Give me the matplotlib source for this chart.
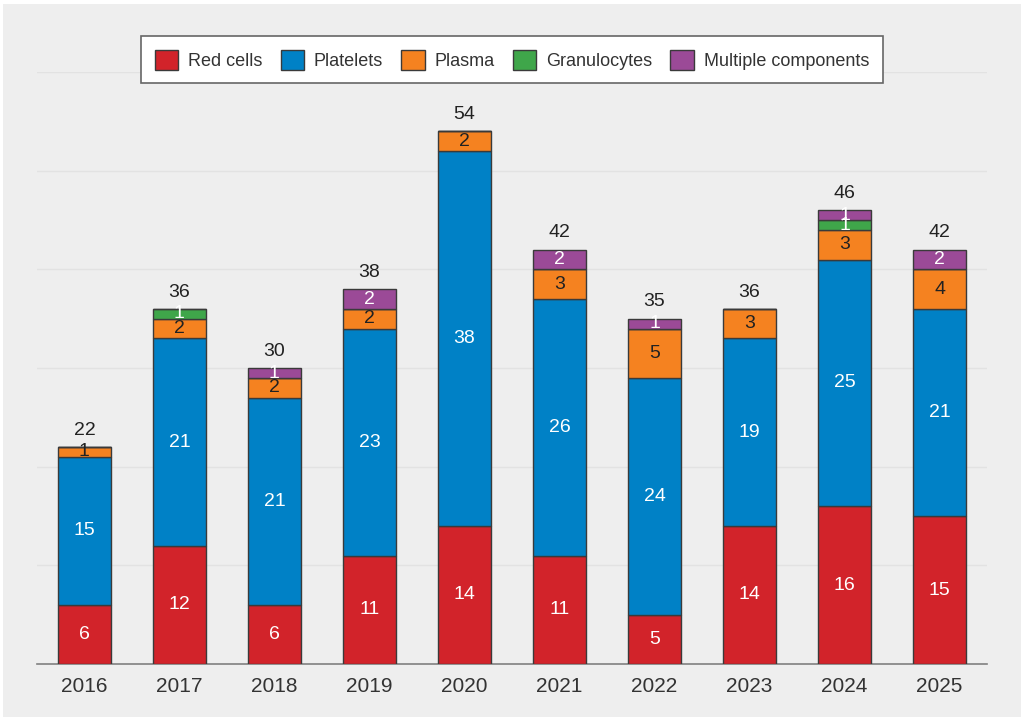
import numpy as np
import matplotlib.pyplot as plt
from matplotlib.patches import Rectangle

plt.rcParams['font.family'] = ['Liberation Sans', 'DejaVu Sans']

years = ['2016', '2017', '2018', '2019', '2020', '2021', '2022', '2023', '2024', '2025']
red_cells = [6, 12, 6, 11, 14, 11, 5, 14, 16, 15]
platelets = [15, 21, 21, 23, 38, 26, 24, 19, 25, 21]
plasma = [1, 2, 2, 2, 2, 3, 5, 3, 3, 4]
granulocytes = [0, 1, 0, 0, 0, 0, 0, 0, 1, 0]
multiple = [0, 0, 1, 2, 0, 2, 1, 0, 1, 2]

series = [
    ('Red cells', red_cells, '#d2232a', 'white'),
    ('Platelets', platelets, '#0081c6', 'white'),
    ('Plasma', plasma, '#f58220', '#222222'),
    ('Granulocytes', granulocytes, '#3fa64a', 'white'),
    ('Multiple components', multiple, '#9b4a97', 'white'),
]

fig = plt.figure(figsize=(10.24, 7.21), dpi=100, facecolor='white')
# grey panel behind the chart
fig.patches.append(Rectangle((0.003, 0.005), 0.994, 0.99, transform=fig.transFigure,
                             facecolor='#eeeeee', edgecolor='none', zorder=-10))

ax = fig.add_axes([0.036, 0.079, 0.928, 0.821])
ax.set_facecolor('none')

x = np.arange(len(years))
bottom = np.zeros(len(years))
for name, vals, col, tcol in series:
    vals = np.array(vals)
    ax.bar(x, vals, width=0.55, bottom=bottom, color=col, edgecolor='#3a3a3a',
           linewidth=1.0, label=name, zorder=3)
    for i, v in enumerate(vals):
        if v > 0:
            ax.text(x[i], bottom[i] + v / 2, str(v), ha='center', va='center',
                    color=tcol, fontsize=14, zorder=4)
    bottom += vals

for i, tot in enumerate(bottom):
    ax.annotate(str(int(tot)), (x[i], tot), xytext=(0, 6), textcoords='offset points',
                ha='center', va='bottom', fontsize=14, color='#222222')

ax.set_xlim(-0.5, len(years) - 0.5)
ax.set_ylim(0, 60)
ax.set_yticks(np.arange(10, 61, 10))
ax.yaxis.grid(True, color='#e2e2e2', linewidth=1.0, zorder=0)
ax.tick_params(axis='y', left=False, labelleft=False)
ax.set_xticks(x)
ax.set_xticklabels(years, fontsize=15, color='#333333')
ax.tick_params(axis='x', length=0, pad=9)
for s in ['left', 'right', 'top']:
    ax.spines[s].set_visible(False)
ax.spines['bottom'].set_color('#808080')
ax.spines['bottom'].set_linewidth(1.2)

leg = fig.legend(loc='center', bbox_to_anchor=(0.5, 0.917), ncol=5, fontsize=13,
                 frameon=True, fancybox=False, edgecolor='#666666', facecolor='white',
                 framealpha=1, handlelength=1.3, handleheight=1.3, handletextpad=0.55,
                 columnspacing=1.0, borderpad=0.75)
leg.get_frame().set_linewidth(1.2)
for t in leg.get_texts():
    t.set_color('#333333')

fig.savefig('out.png', dpi=100, facecolor=fig.get_facecolor())
